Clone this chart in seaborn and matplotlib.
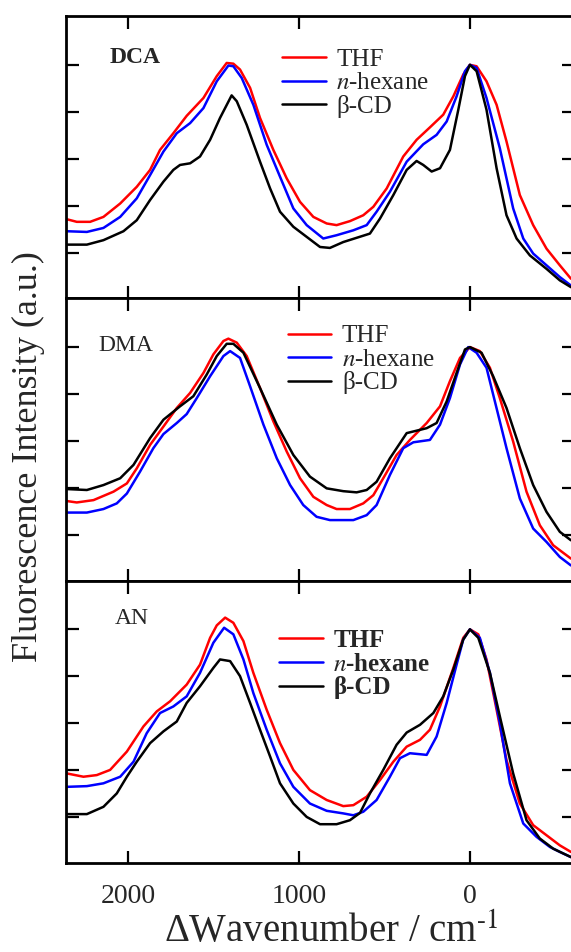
import numpy as np
import pandas as pd
import matplotlib
matplotlib.use('Agg')
import matplotlib.pyplot as plt
import seaborn as sns

# ---- données (Δ nombre d'onde en cm-1, intensité normalisée) ----
# DCA
dca_thf_x = [2358, 2300, 2222, 2144, 2046, 1949, 1871, 1813, 1735, 1657, 1559, 1481, 1423, 1384, 1345,
             1286, 1228, 1150, 1072, 994, 916, 838, 780, 702, 624, 565, 487, 390, 312, 234, 156, 97, 39,
             0, -39, -97, -156, -214, -292, -370, -448, -526, -591]
dca_thf_y = [0.343, 0.332, 0.332, 0.353, 0.410, 0.481, 0.553, 0.638, 0.709, 0.783, 0.859, 0.952, 1.008,
             1.005, 0.980, 0.902, 0.774, 0.638, 0.517, 0.417, 0.353, 0.325, 0.318, 0.335, 0.360, 0.396,
             0.474, 0.610, 0.681, 0.734, 0.788, 0.866, 0.959, 1.0, 0.994, 0.930, 0.830, 0.674, 0.446,
             0.318, 0.218, 0.147, 0.090]
dca_hex_x = [2358, 2241, 2144, 2046, 1949, 1871, 1793, 1715, 1637, 1559, 1481, 1413, 1384, 1335, 1267,
             1189, 1111, 1033, 955, 858, 780, 682, 604, 546, 468, 370, 273, 195, 136, 78, 29, 0, -39,
             -97, -175, -253, -312, -370, -448, -526, -591]
dca_hex_y = [0.292, 0.289, 0.306, 0.353, 0.432, 0.531, 0.631, 0.709, 0.752, 0.816, 0.930, 0.997, 0.994,
             0.944, 0.830, 0.660, 0.524, 0.389, 0.318, 0.261, 0.275, 0.296, 0.318, 0.375, 0.460, 0.588,
             0.662, 0.702, 0.759, 0.866, 0.973, 1.0, 0.987, 0.859, 0.645, 0.389, 0.261, 0.197, 0.147,
             0.097, 0.061]
dca_cd_x = [2358, 2241, 2144, 2027, 1949, 1871, 1793, 1735, 1696, 1637, 1579, 1520, 1462, 1394, 1364,
            1306, 1228, 1169, 1111, 1033, 955, 877, 819, 741, 663, 585, 526, 448, 370, 312, 273, 224,
            175, 117, 68, 29, 0, -39, -97, -156, -214, -273, -351, -448, -526, -591]
dca_cd_y = [0.235, 0.235, 0.254, 0.292, 0.339, 0.425, 0.503, 0.553, 0.574, 0.581, 0.610, 0.681, 0.774,
            0.870, 0.845, 0.745, 0.588, 0.474, 0.375, 0.311, 0.268, 0.225, 0.221, 0.246, 0.264, 0.282,
            0.346, 0.446, 0.553, 0.591, 0.574, 0.546, 0.560, 0.638, 0.809, 0.952, 1.0, 0.973, 0.809,
            0.560, 0.360, 0.261, 0.189, 0.132, 0.083, 0.054]

# DMA
dma_thf_x = [2358, 2300, 2202, 2085, 2007, 1949, 1871, 1793, 1715, 1637, 1559, 1501, 1442, 1413, 1364,
             1306, 1228, 1150, 1072, 994, 916, 838, 780, 702, 624, 565, 507, 429, 351, 253, 175, 117,
             58, 0, -58, -117, -175, -253, -331, -409, -487, -591]
dma_thf_y = [0.345, 0.339, 0.349, 0.385, 0.420, 0.484, 0.584, 0.662, 0.741, 0.805, 0.890, 0.969, 1.026,
             1.036, 1.019, 0.962, 0.826, 0.684, 0.556, 0.442, 0.363, 0.328, 0.311, 0.311, 0.335, 0.370,
             0.442, 0.541, 0.605, 0.677, 0.748, 0.855, 0.954, 1.0, 0.983, 0.912, 0.783, 0.598, 0.385,
             0.242, 0.157, 0.100]
dma_hex_x = [2358, 2241, 2144, 2066, 2007, 1930, 1852, 1793, 1715, 1657, 1598, 1520, 1442, 1403, 1345,
             1286, 1208, 1130, 1052, 975, 897, 819, 682, 604, 546, 468, 390, 331, 234, 175, 117, 58,
             10, -39, -97, -136, -214, -292, -370, -448, -526, -591]
dma_hex_y = [0.296, 0.296, 0.311, 0.335, 0.377, 0.470, 0.570, 0.630, 0.677, 0.715, 0.783, 0.876, 0.962,
             0.983, 0.954, 0.833, 0.670, 0.527, 0.413, 0.328, 0.278, 0.264, 0.264, 0.285, 0.328, 0.456,
             0.570, 0.595, 0.605, 0.670, 0.783, 0.926, 1.0, 0.976, 0.912, 0.798, 0.570, 0.356, 0.228,
             0.171, 0.107, 0.071]
dma_cd_x = [2358, 2241, 2144, 2046, 1968, 1871, 1793, 1696, 1618, 1540, 1481, 1423, 1384, 1325, 1228,
            1130, 1033, 936, 838, 741, 663, 604, 546, 468, 370, 253, 195, 136, 78, 29, 0, -68, -136,
            -214, -292, -370, -448, -526, -591]
dma_cd_y = [0.396, 0.392, 0.413, 0.442, 0.499, 0.613, 0.691, 0.748, 0.791, 0.883, 0.962, 1.014, 1.014,
            0.976, 0.826, 0.670, 0.541, 0.449, 0.399, 0.387, 0.382, 0.392, 0.427, 0.527, 0.634, 0.655,
            0.677, 0.769, 0.890, 0.990, 1.0, 0.976, 0.876, 0.741, 0.570, 0.413, 0.299, 0.214, 0.178]

# AN
an_thf_x = [2358, 2261, 2183, 2105, 2007, 1910, 1832, 1754, 1657, 1579, 1520, 1481, 1432, 1384, 1325,
            1267, 1189, 1111, 1033, 936, 838, 741, 682, 604, 526, 448, 370, 292, 234, 175, 97, 39, 0,
            -49, -97, -156, -214, -292, -370, -448, -526, -591]
an_thf_y = [0.387, 0.373, 0.380, 0.402, 0.480, 0.587, 0.651, 0.694, 0.765, 0.850, 0.964, 1.017, 1.050,
            1.028, 0.950, 0.815, 0.658, 0.516, 0.402, 0.316, 0.274, 0.248, 0.252, 0.288, 0.359, 0.437,
            0.501, 0.530, 0.573, 0.672, 0.836, 0.964, 1.0, 0.979, 0.872, 0.658, 0.444, 0.259, 0.167,
            0.124, 0.081, 0.053]
an_hex_x = [2358, 2241, 2144, 2046, 1968, 1891, 1813, 1735, 1657, 1579, 1501, 1438, 1384, 1325, 1267,
            1189, 1111, 1033, 936, 838, 741, 682, 624, 546, 468, 409, 351, 253, 195, 136, 78, 39, 0,
            -58, -117, -175, -234, -312, -390, -468, -526, -591]
an_hex_y = [0.330, 0.333, 0.345, 0.373, 0.437, 0.558, 0.644, 0.672, 0.715, 0.815, 0.943, 1.007, 0.979,
            0.872, 0.729, 0.573, 0.430, 0.330, 0.259, 0.228, 0.217, 0.209, 0.224, 0.274, 0.373, 0.452,
            0.473, 0.466, 0.544, 0.687, 0.850, 0.957, 1.0, 0.964, 0.815, 0.601, 0.345, 0.174, 0.117,
            0.074, 0.053, 0.031]
an_cd_x = [2358, 2241, 2144, 2066, 2007, 1949, 1871, 1793, 1715, 1657, 1579, 1501, 1462, 1403, 1345,
           1286, 1228, 1169, 1111, 1033, 955, 877, 780, 702, 643, 585, 507, 429, 370, 292, 214, 156, 97,
           39, 0, -49, -117, -175, -253, -331, -409, -487, -591]
an_cd_y = [0.214, 0.214, 0.245, 0.302, 0.373, 0.437, 0.516, 0.566, 0.608, 0.687, 0.758, 0.836, 0.872,
           0.865, 0.801, 0.687, 0.573, 0.459, 0.345, 0.259, 0.202, 0.171, 0.171, 0.188, 0.219, 0.302,
           0.402, 0.509, 0.561, 0.594, 0.644, 0.715, 0.829, 0.957, 1.0, 0.964, 0.815, 0.630, 0.387,
           0.188, 0.110, 0.067, 0.031]

solvents = ['THF', '$\\it{n}$-hexane', 'β-CD']
colors = ['#ff0000', '#0000ff', '#000000']
molecules = ['DCA', 'DMA', 'AN']
series = {
    'DCA': [(dca_thf_x, dca_thf_y), (dca_hex_x, dca_hex_y), (dca_cd_x, dca_cd_y)],
    'DMA': [(dma_thf_x, dma_thf_y), (dma_hex_x, dma_hex_y), (dma_cd_x, dma_cd_y)],
    'AN': [(an_thf_x, an_thf_y), (an_hex_x, an_hex_y), (an_cd_x, an_cd_y)],
}
xticks = [2000, 1000, 0]
yticks = [0.2, 0.4, 0.6, 0.8, 1.0]

# position de la légende / étiquette de chaque panneau (fraction d'axes)
legend_pos = {'DCA': (0.426, 0.885), 'DMA': (0.437, 0.906), 'AN': (0.42, 0.829)}
label_pos = {'DCA': (0.087, 0.854), 'DMA': (0.064, 0.833), 'AN': (0.097, 0.866)}

sns.set_theme(style='ticks')
plt.rcParams['font.family'] = ['Liberation Serif', 'DejaVu Serif']
plt.rcParams['mathtext.fontset'] = 'stix'
plt.rcParams['axes.linewidth'] = 2.0

fig, axes = plt.subplots(3, 1, figsize=(5.71, 9.52), dpi=100, sharex=True,
                         gridspec_kw=dict(hspace=0))
fig.subplots_adjust(left=0.115, right=1.005, top=0.983, bottom=0.0935)

for ax, mol in zip(axes, molecules):
    for (x, y), lab, col in zip(series[mol], solvents, colors):
        df = pd.DataFrame({'x': x, 'y': y})
        sns.lineplot(data=df, x='x', y='y', ax=ax, color=col, lw=1.8, label=lab,
                     estimator=None, sort=False)
    ax.set_xlim(2365, -608)
    ax.set_ylim(0.006, 1.207)
    ax.set_xticks(xticks)
    ax.set_yticks(yticks)
    ax.set_xlabel('')
    ax.set_ylabel('')
    ax.tick_params(axis='both', direction='in', top=True, right=True, length=9, width=1.6,
                   color='black')
    ax.tick_params(axis='y', labelleft=False)
    ax.tick_params(axis='x', labelsize=20, pad=15)
    for s in ax.spines.values():
        s.set_color('black')
        s.set_linewidth(2.0)
    weight = 'bold' if mol == 'AN' else 'normal'
    ax.legend(loc='upper left', bbox_to_anchor=legend_pos[mol], frameon=False,
              prop={'size': 18, 'weight': weight}, handlelength=1.75, handletextpad=0.42,
              labelspacing=0.03, borderpad=0, borderaxespad=0)
    ax.text(*label_pos[mol], mol, transform=ax.transAxes, fontsize=17, va='center', ha='left',
            fontweight='bold' if mol == 'DCA' else 'normal')

fig.text(28 / 571, 1 - 457 / 952, 'Fluorescence Intensity (a.u.)', rotation=90,
         ha='center', va='center', fontsize=26)
fig.text(331 / 571, 0.0, 'ΔWavenumber / cm$^{\\text{-1}}$', ha='center', va='bottom',
         fontsize=28)

plt.savefig('out.png', dpi=100)
plt.close()
